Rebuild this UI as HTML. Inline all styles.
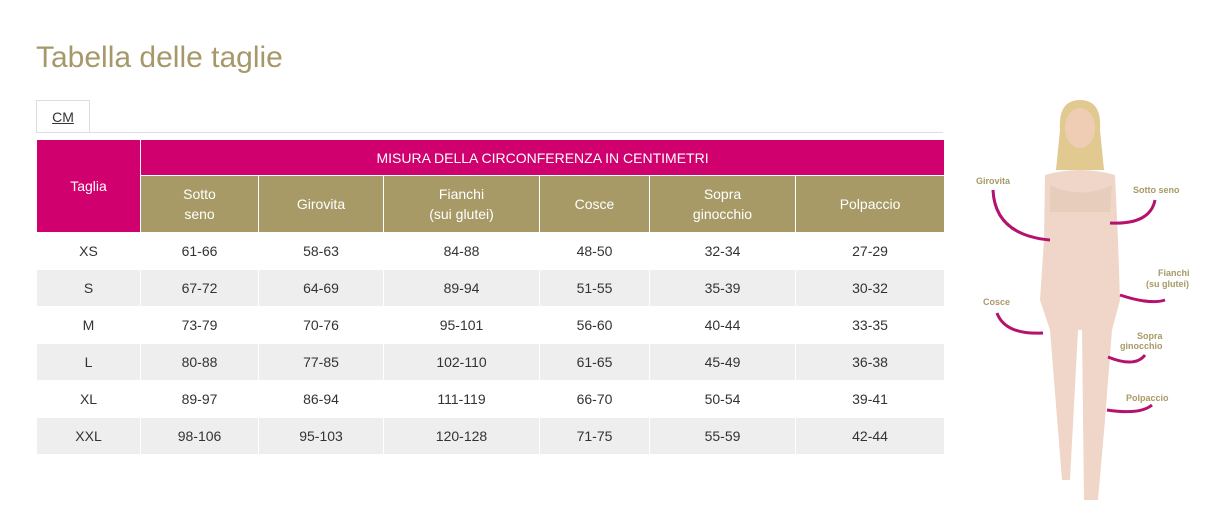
<!DOCTYPE html>
<html><head><meta charset="utf-8"><style>
body{margin:0;width:1205px;height:529px;background:#fff;font-family:"Liberation Sans",Arial,sans-serif;position:relative;overflow:hidden}
h1{position:absolute;left:36px;top:41px;margin:0;font-weight:normal;font-size:30px;color:#a6986a}
.tab{position:absolute;left:36px;top:100px;width:52px;height:32px;border:1px solid #ddd;border-bottom:none;background:#fff;text-align:center;line-height:33px;font-size:14px;color:#333;text-decoration:underline}
.line{position:absolute;left:36px;top:132px;width:907px;height:1px;background:#ddd}
table{position:absolute;left:36px;top:139px;border-collapse:collapse;width:908px;table-layout:fixed;font-size:14px;color:#333}
td{text-align:center;padding:0;border:1px solid #fff}
.m{background:#d1006f;color:#fff}
.g{background:#a89a66;color:#fff;line-height:20px}
tr.d td{height:36px}
tr.e td{background:#eeeeee}
.lb{position:absolute;font-size:9px;color:#a89a66;font-weight:bold;line-height:10px}
</style></head><body>
<h1>Tabella delle taglie</h1>
<div class="tab">CM</div><div class="line"></div>
<table>
<colgroup><col style="width:104px"><col style="width:118px"><col style="width:125px"><col style="width:156px"><col style="width:110px"><col style="width:146px"><col style="width:149px"></colgroup>
<tr style="height:36px"><td class="m" rowspan="2">Taglia</td><td class="m" colspan="6">MISURA DELLA CIRCONFERENZA IN CENTIMETRI</td></tr>
<tr style="height:57px"><td class="g">Sotto<br>seno</td><td class="g">Girovita</td><td class="g">Fianchi<br>(sui glutei)</td><td class="g">Cosce</td><td class="g">Sopra<br>ginocchio</td><td class="g">Polpaccio</td></tr>
<tr class="d"><td>XS</td><td>61-66</td><td>58-63</td><td>84-88</td><td>48-50</td><td>32-34</td><td>27-29</td></tr>
<tr class="d e"><td>S</td><td>67-72</td><td>64-69</td><td>89-94</td><td>51-55</td><td>35-39</td><td>30-32</td></tr>
<tr class="d"><td>M</td><td>73-79</td><td>70-76</td><td>95-101</td><td>56-60</td><td>40-44</td><td>33-35</td></tr>
<tr class="d e"><td>L</td><td>80-88</td><td>77-85</td><td>102-110</td><td>61-65</td><td>45-49</td><td>36-38</td></tr>
<tr class="d"><td>XL</td><td>89-97</td><td>86-94</td><td>111-119</td><td>66-70</td><td>50-54</td><td>39-41</td></tr>
<tr class="d e"><td>XXL</td><td>98-106</td><td>95-103</td><td>120-128</td><td>71-75</td><td>55-59</td><td>42-44</td></tr>
</table>
<svg style="position:absolute;left:0;top:0" width="1205" height="529">
<path d="M1060 130 Q1058 100 1080 100 Q1102 100 1100 130 L1104 170 L1056 170 Z" fill="#e2c98f"/>
<ellipse cx="1080" cy="128" rx="15" ry="20" fill="#efcdb5"/>
<path d="M1045 175 Q1080 165 1115 175 L1118 240 L1120 300 L1112 330 L1105 420 L1098 500 L1084 500 L1082 330 L1078 330 L1070 480 L1062 480 L1050 330 L1040 300 L1044 240 Z" fill="#efd6c8"/>
<path d="M1050 185 Q1080 200 1112 185 L1110 212 L1050 212 Z" fill="#e7cdbb"/>
<g fill="none" stroke="#b4126e" stroke-width="3">
<path d="M993 190 Q995 235 1050 240"/><path d="M1155 200 Q1150 225 1110 223"/>
<path d="M1165 300 Q1150 305 1120 295"/><path d="M997 313 Q1005 335 1043 333"/>
<path d="M1145 355 Q1135 368 1108 357"/><path d="M1152 405 Q1140 415 1107 410"/>
</g>
</svg>
<div class="lb" style="left:976px;top:176px">Girovita</div>
<div class="lb" style="left:1133px;top:185px">Sotto seno</div>
<div class="lb" style="left:1158px;top:268px">Fianchi</div>
<div class="lb" style="left:1146px;top:279px">(su glutei)</div>
<div class="lb" style="left:983px;top:297px">Cosce</div>
<div class="lb" style="left:1137px;top:331px">Sopra</div>
<div class="lb" style="left:1120px;top:341px">ginocchio</div>
<div class="lb" style="left:1126px;top:393px">Polpaccio</div>
</body></html>
